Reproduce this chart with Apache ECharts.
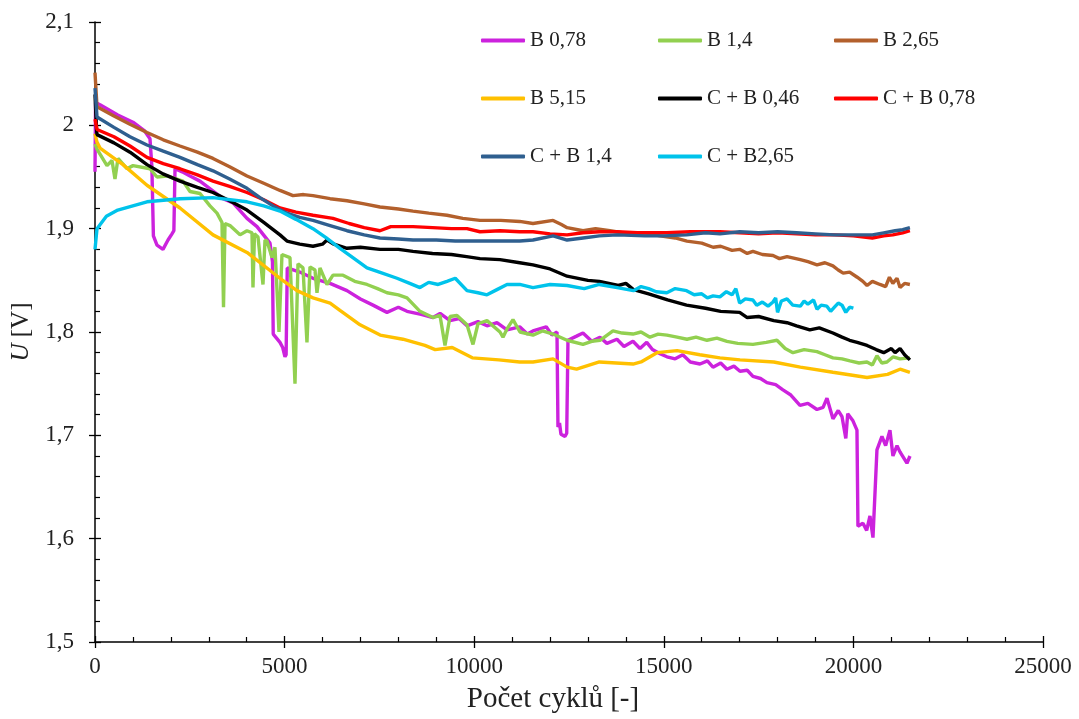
<!DOCTYPE html>
<html>
<head>
<meta charset="utf-8">
<script src="https://cdn.jsdelivr.net/npm/echarts@6/dist/echarts.min.js"></script>
<style>
html,body{margin:0;padding:0;background:#fff;}
#chart{width:1079px;height:719px;}
</style>
</head>
<body>
<div id="chart"></div>
<script>
// ---- data (cycles, voltage) ----
const seriesNames = ['B 0,78','B 1,4','B 2,65','B 5,15','C + B 0,46','C + B 0,78','C + B 1,4','C + B2,65'];

const b078 = [[0,1.955],[15,2.022],[132,2.020],[600,2.010],[1002,2.003],[1300,1.995],[1450,1.987],[1500,1.960],[1540,1.893],[1635,1.884],[1793,1.880],[1925,1.889],[2030,1.895],[2080,1.898],[2110,1.958],[2300,1.955],[2505,1.951],[2769,1.946],[3375,1.929],[3639,1.925],[4008,1.910],[4272,1.902],[4615,1.886],[4680,1.868],[4700,1.798],[4878,1.790],[4950,1.785],[5010,1.776],[5040,1.778],[5070,1.862],[5400,1.858],[5749,1.852],[6197,1.847],[6645,1.840],[7000,1.832],[7331,1.826],[7700,1.819],[8000,1.824],[8228,1.820],[8600,1.817],[8913,1.814],[9100,1.818],[9362,1.811],[9600,1.813],[9810,1.806],[10100,1.810],[10337,1.806],[10600,1.809],[10865,1.802],[11200,1.805],[11400,1.798],[11550,1.801],[11900,1.805],[12050,1.797],[12183,1.800],[12209,1.708],[12250,1.712],[12288,1.701],[12394,1.699],[12440,1.702],[12473,1.792],[12700,1.796],[12868,1.799],[13100,1.791],[13317,1.795],[13500,1.789],[13765,1.793],[13950,1.786],[14187,1.791],[14372,1.784],[14550,1.790],[14700,1.783],[14900,1.779],[15083,1.776],[15300,1.774],[15500,1.778],[15700,1.771],[15954,1.769],[16150,1.772],[16297,1.766],[16500,1.770],[16666,1.764],[16850,1.767],[17009,1.762],[17200,1.763],[17351,1.757],[17550,1.755],[17720,1.751],[17950,1.749],[18142,1.744],[18350,1.739],[18591,1.729],[18800,1.731],[19039,1.725],[19200,1.727],[19303,1.736],[19461,1.716],[19600,1.724],[19700,1.718],[19800,1.697],[19850,1.721],[19988,1.714],[20094,1.705],[20120,1.612],[20252,1.615],[20350,1.608],[20437,1.622],[20516,1.601],[20621,1.686],[20753,1.699],[20850,1.690],[20964,1.705],[21043,1.680],[21150,1.690],[21228,1.684],[21412,1.673],[21492,1.680]];

const b14 = [[0,1.982],[53,1.977],[316,1.961],[448,1.966],[527,1.948],[606,1.968],[844,1.958],[1002,1.961],[1450,1.958],[1635,1.950],[1899,1.951],[2320,1.946],[2505,1.936],[2769,1.934],[3033,1.922],[3217,1.915],[3349,1.906],[3389,1.824],[3428,1.905],[3560,1.903],[3824,1.894],[4008,1.898],[4140,1.896],[4166,1.843],[4206,1.895],[4298,1.892],[4430,1.846],[4483,1.889],[4536,1.888],[4667,1.872],[4746,1.882],[4852,1.800],[4931,1.875],[5142,1.872],[5274,1.750],[5353,1.866],[5485,1.862],[5590,1.790],[5670,1.863],[5801,1.860],[5854,1.838],[5933,1.862],[6118,1.846],[6276,1.855],[6540,1.855],[6850,1.849],[7173,1.846],[7450,1.842],[7700,1.838],[8000,1.836],[8228,1.833],[8570,1.820],[8913,1.814],[9098,1.816],[9230,1.787],[9362,1.815],[9546,1.816],[9810,1.807],[9968,1.788],[10100,1.808],[10337,1.811],[10680,1.800],[10759,1.795],[10865,1.803],[11023,1.812],[11207,1.800],[11550,1.797],[11800,1.801],[12077,1.798],[12447,1.792],[12868,1.788],[13100,1.791],[13317,1.792],[13660,1.801],[13900,1.799],[14187,1.798],[14400,1.800],[14635,1.795],[14850,1.798],[15083,1.797],[15350,1.795],[15611,1.793],[15850,1.795],[16139,1.792],[16400,1.794],[16666,1.791],[16950,1.789],[17351,1.788],[17700,1.790],[17984,1.792],[18200,1.784],[18406,1.780],[18700,1.783],[19039,1.781],[19250,1.778],[19461,1.775],[19700,1.774],[19909,1.772],[20150,1.770],[20358,1.771],[20500,1.768],[20621,1.777],[20750,1.770],[20885,1.771],[21050,1.776],[21228,1.774],[21492,1.775]];

const b265 = [[0,2.051],[53,2.018],[500,2.009],[923,2.001],[1371,1.993],[1800,1.986],[2241,1.980],[2700,1.974],[3112,1.968],[3550,1.960],[4008,1.951],[4450,1.944],[4878,1.937],[5221,1.932],[5500,1.933],[5749,1.932],[6200,1.929],[6645,1.927],[7100,1.924],[7515,1.921],[8000,1.919],[8386,1.917],[8800,1.915],[9282,1.913],[9700,1.910],[10152,1.908],[10700,1.908],[11200,1.907],[11550,1.905],[12080,1.908],[12300,1.904],[12450,1.901],[12870,1.898],[13200,1.900],[13580,1.898],[13900,1.896],[14190,1.894],[14500,1.896],[14900,1.893],[15300,1.891],[15610,1.888],[16000,1.886],[16300,1.882],[16500,1.883],[16800,1.879],[17000,1.880],[17200,1.876],[17350,1.878],[17600,1.875],[17880,1.874],[18050,1.871],[18250,1.873],[18600,1.870],[18800,1.868],[19040,1.865],[19250,1.867],[19460,1.864],[19600,1.860],[19730,1.857],[19900,1.858],[20100,1.853],[20250,1.849],[20360,1.845],[20500,1.849],[20700,1.846],[20850,1.844],[20950,1.853],[21040,1.847],[21150,1.852],[21230,1.843],[21350,1.847],[21490,1.846]];

const b515 = [[0,1.992],[50,1.984],[132,1.978],[738,1.962],[1371,1.942],[2241,1.920],[3112,1.894],[4008,1.877],[4878,1.852],[5327,1.840],[5750,1.833],[6200,1.828],[6460,1.821],[6990,1.807],[7520,1.797],[8120,1.793],[8700,1.787],[8970,1.783],[9420,1.785],[9950,1.775],[10650,1.773],[11200,1.771],[11550,1.771],[12080,1.774],[12450,1.766],[12700,1.764],[13300,1.771],[14190,1.769],[14400,1.771],[14820,1.780],[15350,1.782],[15950,1.778],[16480,1.775],[17010,1.773],[17900,1.771],[18600,1.766],[19460,1.761],[20360,1.756],[20900,1.759],[21230,1.764],[21490,1.761]];

const cb046 = [[0,2.030],[40,1.996],[53,1.991],[500,1.983],[923,1.974],[1371,1.962],[1793,1.953],[2241,1.946],[2700,1.940],[3112,1.935],[3550,1.927],[4008,1.918],[4450,1.906],[4878,1.894],[5063,1.888],[5400,1.885],[5749,1.883],[6000,1.885],[6118,1.889],[6300,1.885],[6645,1.881],[7000,1.882],[7515,1.880],[8000,1.880],[8386,1.878],[8900,1.876],[9400,1.875],[9800,1.873],[10152,1.871],[10680,1.870],[11200,1.867],[11550,1.865],[12000,1.861],[12450,1.854],[13000,1.850],[13300,1.849],[13800,1.845],[14000,1.847],[14200,1.841],[14600,1.837],[15100,1.831],[15600,1.826],[16100,1.823],[16500,1.820],[17000,1.819],[17200,1.814],[17500,1.815],[17900,1.811],[18250,1.809],[18500,1.806],[18850,1.802],[19100,1.804],[19460,1.799],[19700,1.795],[19900,1.792],[20100,1.790],[20360,1.787],[20600,1.783],[20800,1.780],[21000,1.784],[21100,1.780],[21230,1.784],[21350,1.778],[21490,1.773]];

const cb078 = [[0,2.006],[53,1.996],[500,1.989],[923,1.980],[1371,1.969],[1800,1.963],[2241,1.958],[2700,1.952],[3112,1.946],[3550,1.941],[4008,1.935],[4450,1.928],[4878,1.920],[5300,1.916],[5749,1.913],[6276,1.910],[6700,1.905],[7100,1.901],[7515,1.898],[7800,1.902],[8386,1.902],[8900,1.901],[9400,1.900],[9810,1.900],[10152,1.897],[10680,1.898],[11200,1.897],[11550,1.897],[12000,1.895],[12450,1.894],[12870,1.896],[13300,1.897],[13770,1.897],[14300,1.896],[15080,1.896],[15700,1.897],[16480,1.897],[17000,1.896],[17500,1.895],[18000,1.896],[18500,1.895],[19000,1.894],[19500,1.894],[20000,1.893],[20500,1.891],[20800,1.893],[21040,1.894],[21300,1.896],[21490,1.898]];

const cb14 = [[0,2.036],[30,2.020],[53,2.008],[500,1.998],[923,1.989],[1371,1.981],[1800,1.975],[2241,1.969],[2700,1.962],[3112,1.956],[3550,1.948],[4008,1.939],[4350,1.930],[4694,1.922],[5063,1.915],[5400,1.911],[5749,1.908],[6200,1.903],[6645,1.898],[7100,1.894],[7515,1.891],[8000,1.890],[8386,1.889],[9000,1.889],[9500,1.888],[10152,1.888],[10680,1.888],[11200,1.888],[11550,1.889],[12080,1.893],[12450,1.889],[12870,1.891],[13300,1.893],[13770,1.894],[14500,1.893],[15000,1.893],[15600,1.894],[16100,1.896],[16480,1.895],[17000,1.897],[17500,1.896],[18000,1.897],[18500,1.896],[19000,1.895],[19500,1.894],[20000,1.894],[20500,1.894],[20800,1.896],[21100,1.898],[21300,1.899],[21490,1.901]];

const cb265 = [[0,1.880],[53,1.900],[300,1.912],[600,1.918],[1371,1.926],[2241,1.929],[3112,1.930],[4008,1.926],[4450,1.922],[4878,1.917],[5300,1.909],[5749,1.900],[6100,1.891],[6460,1.881],[6800,1.872],[7173,1.862],[7500,1.858],[7964,1.852],[8300,1.847],[8570,1.843],[8800,1.848],[9050,1.846],[9282,1.849],[9500,1.852],[9810,1.840],[10100,1.838],[10337,1.836],[10600,1.841],[10865,1.846],[11200,1.846],[11550,1.843],[12000,1.846],[12450,1.845],[12900,1.842],[13300,1.846],[13770,1.843],[14200,1.840],[14400,1.844],[14600,1.842],[14800,1.839],[15080,1.838],[15300,1.842],[15600,1.840],[15800,1.836],[16000,1.837],[16150,1.833],[16300,1.835],[16480,1.834],[16650,1.839],[16800,1.836],[16900,1.842],[17000,1.828],[17150,1.832],[17350,1.831],[17450,1.826],[17600,1.829],[17750,1.825],[17880,1.829],[17950,1.833],[18000,1.819],[18100,1.830],[18250,1.832],[18400,1.826],[18600,1.825],[18700,1.830],[18800,1.827],[18950,1.831],[19040,1.822],[19150,1.826],[19300,1.825],[19400,1.820],[19500,1.824],[19600,1.828],[19700,1.826],[19800,1.819],[19900,1.824],[20000,1.823]];

const seriesData = [b078, b14, b265, b515, cb046, cb078, cb14, cb265];
const seriesColors = ['#CC22DD','#92D050','#B3602C','#FFC000','#000000','#FF0000','#2F5F8F','#00C3EB'];

const xMin = 0, xMax = 25000, xStep = 5000;
const yMin = 1.5, yMax = 2.1, yStep = 0.1;

const FONT = "'Liberation Serif','Times New Roman',serif";

const chart = echarts.init(document.getElementById('chart'), null, {renderer:'canvas'});

const legendCols = [
  {left: 481, names: [seriesNames[0], seriesNames[3], seriesNames[6]]},
  {left: 658, names: [seriesNames[1], seriesNames[4], seriesNames[7]]},
  {left: 834, names: [seriesNames[2], seriesNames[5]]}
];

const axisLineStyle = {color:'#000', width:1.5};

chart.setOption({
  animation: false,
  backgroundColor: '#fff',
  grid: {left: 95, right: 36, top: 22, bottom: 72, containLabel: false},
  legend: legendCols.map(c => ({
    left: c.left, top: 30, orient: 'vertical', padding: 0,
    icon: 'roundRect',
    itemWidth: 44, itemHeight: 4, itemGap: 37,
    data: c.names,
    textStyle: {fontFamily: FONT, fontSize: 21, color:'#222', lineHeight: 21},
    selectedMode: false
  })),
  xAxis: [
    {
      type:'value', min:xMin, max:xMax, interval:xStep, position:'bottom',
      name:'Počet cyklů [-]', nameLocation:'middle', nameGap: 43,
      nameTextStyle:{fontFamily:FONT, fontSize:29, color:'#222', padding:[0,32,0,0]},
      axisLine:{show:true, lineStyle:axisLineStyle},
      axisTick:{show:true, inside:false, length:6, lineStyle:{color:'#000', width:1.3}},
      axisLabel:{fontFamily:FONT, fontSize:23, color:'#222', margin:13, formatter: v => String(v)},
      splitLine:{show:false}
    },
    {
      type:'value', min:xMin, max:xMax, interval:xStep, position:'bottom',
      axisLine:{show:false},
      axisTick:{show:true, inside:true, length:6, lineStyle:{color:'#000', width:1.3}},
      minorTick:{show:true, splitNumber:5, length:5, lineStyle:{color:'#000', width:1.2}},
      axisLabel:{show:false}, splitLine:{show:false}
    }
  ],
  yAxis: [
    {
      type:'value', min:yMin, max:yMax, interval:yStep, position:'left',
      name:'{i|U} [V]', nameLocation:'middle', nameGap: 51, nameRotate: 90,
      nameTextStyle:{fontFamily:FONT, fontSize:25, color:'#222',
        rich:{i:{fontFamily:FONT, fontSize:25, fontStyle:'italic', color:'#222'}}},
      axisLine:{show:true, lineStyle:axisLineStyle},
      axisTick:{show:true, inside:false, length:6, lineStyle:{color:'#000', width:1.3}},
      axisLabel:{fontFamily:FONT, fontSize:23, color:'#222', margin:21,
        formatter: v => String(Number(v.toFixed(1))).replace('.', ',')},
      splitLine:{show:false}
    },
    {
      type:'value', min:yMin, max:yMax, interval:yStep, position:'left',
      axisLine:{show:false},
      axisTick:{show:true, inside:true, length:6, lineStyle:{color:'#000', width:1.3}},
      minorTick:{show:true, splitNumber:5, length:5, lineStyle:{color:'#000', width:1.2}},
      axisLabel:{show:false}, splitLine:{show:false}
    }
  ],
  series: seriesNames.map((n, i) => ({
    name: n, type:'line', xAxisIndex:0, yAxisIndex:0,
    data: seriesData[i], symbol:'none', showSymbol:false,
    lineStyle:{color: seriesColors[i], width:3.4},
    itemStyle:{color: seriesColors[i]},
    smooth:false
  }))
});
</script>
</body>
</html>
